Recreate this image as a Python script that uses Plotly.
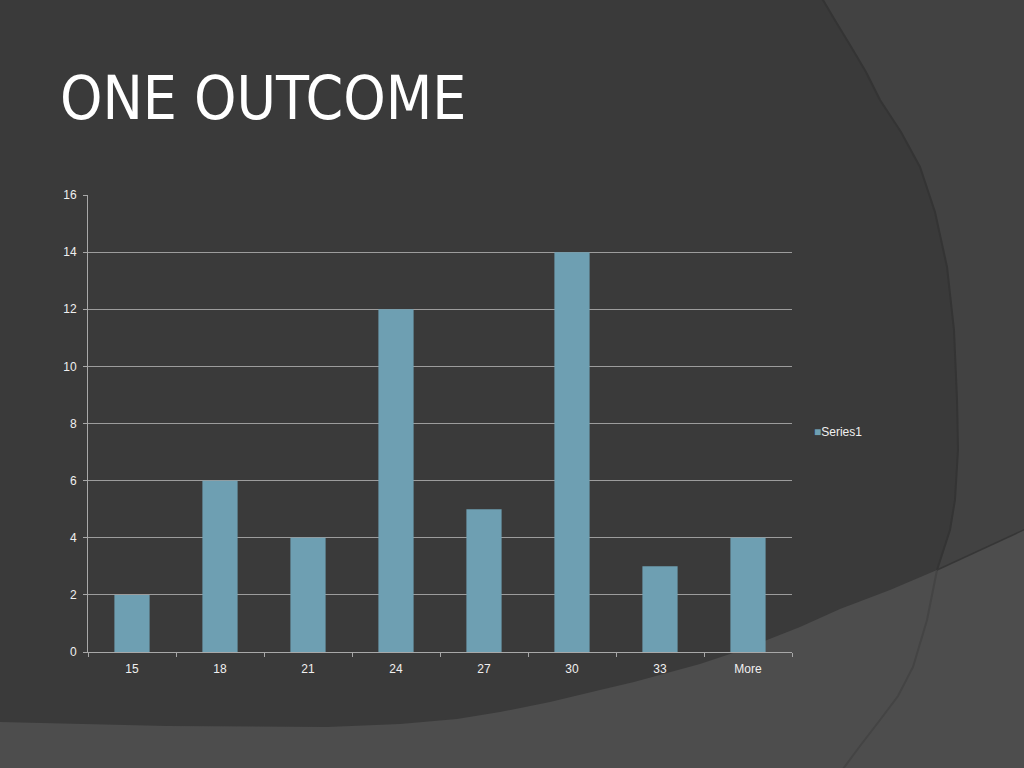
import plotly.graph_objects as go

# histogram bins and counts
categories = ['15', '18', '21', '24', '27', '30', '33', 'More']
counts = [2, 6, 4, 12, 5, 14, 3, 4]
y_ticks = [0, 2, 4, 6, 8, 10, 12, 14, 16]
series_name = 'Series1'
bar_color = '#6e9fb2'

W, H = 1024, 768
L, R, T, B = 88, 232, 195, 116
PW, PH = W - L - R, H - T - B


def px(x, y):
    # page pixels -> paper coords
    return (x - L) / PW, (H - B - y) / PH


def path(points, close=True):
    s = ''
    for i, (x, y) in enumerate(points):
        a, b = px(x, y)
        s += ('M' if i == 0 else 'L') + f'{a:.4f},{b:.4f} '
    return s + ('Z' if close else '')


# slide background geometry (pixels)
arc = [(820, -5), (836, 22), (850, 45), (866, 72), (880, 100), (901, 132), (920, 167),
       (935, 212), (947, 267), (954, 330), (957, 400), (958, 450), (955, 500), (950, 530),
       (937, 570)]
arc_low = [(937, 570), (927, 620), (913, 667), (898, 696), (880, 720), (860, 746), (840, 773)]
lower = [(937, 570), (890, 590), (840, 609), (800, 627), (767, 640), (733, 653), (700, 664),
         (667, 673), (634, 682), (600, 690), (550, 702), (500, 712), (457, 719), (400, 724),
         (327, 727), (167, 726), (0, 722), (-5, 722)]

dark = [(-5, -5)] + arc + lower
right_panel = arc + [(1030, 527), (1030, -5)]

shapes = [
    dict(type='path', xref='paper', yref='paper', layer='below', path=path(right_panel),
         fillcolor='#424242', line=dict(width=0)),
    dict(type='path', xref='paper', yref='paper', layer='below', path=path(dark),
         fillcolor='#3a3a3a', line=dict(width=0)),
    dict(type='path', xref='paper', yref='paper', layer='below', path=path(arc, close=False),
         line=dict(color='#343434', width=2)),
    dict(type='path', xref='paper', yref='paper', layer='below', path=path(arc_low, close=False),
         line=dict(color='#444444', width=2)),
    dict(type='path', xref='paper', yref='paper', layer='below',
         path=path([(937, 570), (1030, 527)], close=False),
         line=dict(color='#363636', width=1.5)),
]

fig = go.Figure(go.Bar(
    x=categories, y=counts, name=series_name,
    marker=dict(color=bar_color, line=dict(width=0)),
))

tx, ty = px(58, 98)
lx, ly = px(812, 432)
fig.update_layout(
    width=W, height=H,
    margin=dict(l=L, r=R, t=T, b=B),
    paper_bgcolor='#4d4d4d',
    plot_bgcolor='rgba(0,0,0,0)',
    font=dict(family='Liberation Sans, Arial, sans-serif', size=12, color='#f0f0f0'),
    bargap=0.6,
    showlegend=False,
    shapes=shapes,
    annotations=[
        dict(text='ONE OUTCOME', xref='paper', yref='paper', x=tx, y=ty,
             xanchor='left', yanchor='middle', showarrow=False,
             font=dict(family='DejaVu Sans Condensed, Liberation Sans Narrow, Liberation Sans',
                       size=60, color='#ffffff')),
        # legend entry
        dict(text=f'<span style="color:{bar_color}">■</span>{series_name}',
             xref='paper', yref='paper', x=lx, y=ly,
             xanchor='left', yanchor='middle', showarrow=False,
             font=dict(size=12, color='#f0f0f0')),
    ],
)
fig.update_xaxes(
    showline=True, linecolor='#a8a8a8', linewidth=1,
    ticks='outside', tickson='boundaries', ticklen=4, tickcolor='#a8a8a8',
    showgrid=False, tickfont=dict(size=12), ticklabelstandoff=6,
)
fig.update_yaxes(
    range=[0, 16], tickvals=y_ticks,
    showline=True, linecolor='#a8a8a8', linewidth=1,
    ticks='outside', ticklen=4, tickcolor='#a8a8a8',
    showgrid=True, gridcolor='#9c9c9c', gridwidth=1,
    zeroline=False, tickfont=dict(size=12), ticklabelstandoff=4,
)

fig.write_html('out.html', config={'displayModeBar': False},
               post_script="document.body.style.margin='0';"
                           "document.body.style.background='#4d4d4d';")
